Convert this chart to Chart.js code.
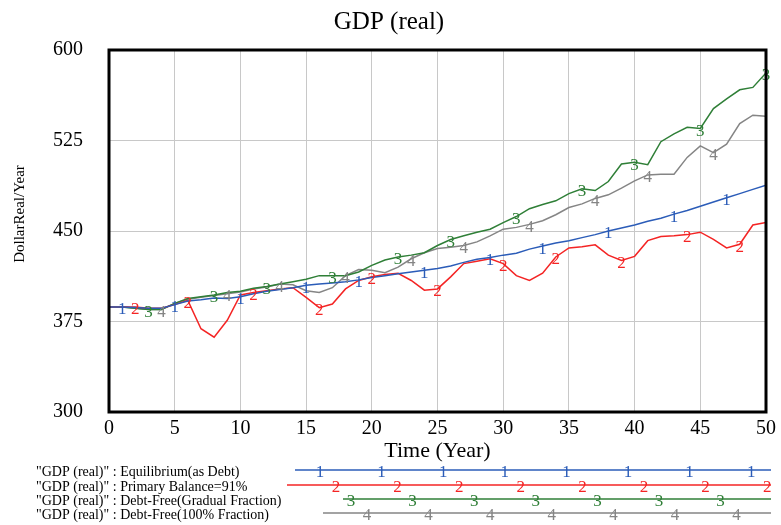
<!DOCTYPE html>
<html>
<head>
<meta charset="utf-8">
<script src="https://cdn.jsdelivr.net/npm/chart.js@4"></script>
<style>
  body { margin: 0; background: #fff; }
  canvas { display: block; }
</style>
</head>
<body>
<canvas id="myChart" width="781" height="525" style="width:781px;height:525px"></canvas>
<script>
// time axis (years) and the four runs
const years = Array.from({ length: 51 }, (_, i) => i)

const equilibrium = [387, 387, 386.5, 386, 386, 389, 392, 393, 394.5, 394, 395.5, 398, 400, 401.5, 403, 405, 406, 407, 408, 409.5,
  411.5, 413, 414.5, 416, 417.5, 419, 421, 424, 426.5, 428, 430, 431.5, 435, 437.5, 440, 442, 444.5, 447, 450, 452.5,
  455, 458, 460.5, 464, 467, 470.5, 474, 477.5, 481, 484.5, 488]
const primaryBalance = [387, 387, 387, 386, 386, 389, 392.5, 369, 362, 376, 397, 399, 400.5, 402, 403, 395, 386.5, 389.5, 402, 409,
  412, 414, 415, 409, 401, 402, 412, 423, 425, 427, 423, 413, 409, 415, 428.5, 436, 437, 438.5, 430, 425.5,
  429, 442, 445.5, 446, 447, 449, 443, 436, 439, 455, 457]
const gradual = [387, 387, 386, 385, 385, 390, 394, 395.5, 397, 399, 400, 402.5, 404, 406, 408, 410, 413, 413, 413, 416,
  421.5, 426, 428.5, 430, 432, 438, 443, 446, 449, 451.5, 457, 462, 468.5, 472, 475, 481, 485, 483.5, 491, 505.5,
  507, 505, 524, 530.5, 536, 535, 551.5, 559.5, 567, 569, 581]
const fullFraction = [387, 387, 386, 385, 385, 390, 393.5, 395, 396.5, 398, 399.5, 402, 403.5, 406, 405.5, 400.5, 399, 403, 413, 418,
  417.5, 415.5, 420, 427, 432, 435.5, 436.5, 438, 441, 446, 451.5, 453, 455.5, 458.5, 463.5, 469.5, 472.5, 477, 480, 485.5,
  491.5, 496.5, 497, 497, 511, 520.5, 515, 522, 539, 546, 545]

// years where the run number is written on each line
const marks1 = [1, 5, 10, 15, 19, 24, 29, 33, 38, 43, 47]
const marks2 = [2, 6, 11, 16, 20, 25, 30, 34, 39, 44, 48]
const marks3 = [3, 8, 12, 17, 22, 26, 31, 36, 40, 45, 50]
const marks4 = [4, 9, 13, 18, 23, 27, 32, 37, 41, 46]

const xTicks = [0, 5, 10, 15, 20, 25, 30, 35, 40, 45, 50]
const yTicks = [300, 375, 450, 525, 600]

const SERIF = "'Liberation Serif', 'DejaVu Serif', serif"

const runs = [
  { label: '"GDP (real)" : Equilibrium(as Debt)', values: equilibrium, marks: marks1, color: '#2b5cb8', tag: '1' },
  { label: '"GDP (real)" : Primary Balance=91%', values: primaryBalance, marks: marks2, color: '#f42424', tag: '2' },
  { label: '"GDP (real)" : Debt-Free(Gradual Fraction)', values: gradual, marks: marks3, color: '#2f7f37', tag: '3' },
  { label: '"GDP (real)" : Debt-Free(100% Fraction)', values: fullFraction, marks: marks4, color: '#858585', tag: '4' }
]

// legend line geometry (start x, first digit x)
const legendRows = [
  { y: 470, start: 295, first: 320 },
  { y: 485, start: 287, first: 336 },
  { y: 499, start: 343, first: 351 },
  { y: 513, start: 323, first: 367 }
]

const decor = {
  id: 'decor',
  afterDatasetsDraw(chart) {
    const { ctx, scales: { x, y } } = chart
    ctx.save()
    ctx.font = '17px ' + SERIF
    ctx.textAlign = 'center'
    ctx.textBaseline = 'middle'
    chart.data.datasets.forEach((ds, k) => {
      const run = runs[k]
      ctx.fillStyle = run.color
      run.marks.forEach(t => {
        ctx.fillText(run.tag, x.getPixelForValue(t), y.getPixelForValue(run.values[t]) + 3)
      })
    })
    ctx.restore()
  },
  afterDraw(chart) {
    const { ctx, chartArea: a } = chart
    ctx.save()
    // frame
    ctx.strokeStyle = '#000'
    ctx.lineWidth = 3
    ctx.strokeRect(a.left, a.top, a.right - a.left, a.bottom - a.top)

    ctx.fillStyle = '#000'
    ctx.textAlign = 'center'
    ctx.textBaseline = 'middle'
    ctx.font = '25px ' + SERIF
    ctx.fillText('GDP (real)', 389, 22)
    ctx.font = '22px ' + SERIF
    ctx.fillText('Time (Year)', (a.left + a.right) / 2, 451)

    ctx.save()
    ctx.translate(20, 214)
    ctx.rotate(-Math.PI / 2)
    ctx.font = '15px ' + SERIF
    ctx.fillText('DollarReal/Year', 0, 0)
    ctx.restore()

    // legend
    runs.forEach((run, k) => {
      const row = legendRows[k]
      ctx.fillStyle = '#000'
      ctx.textAlign = 'left'
      ctx.font = '14px ' + SERIF
      ctx.fillText(run.label, 36, row.y + 2)
      ctx.strokeStyle = run.color
      ctx.lineWidth = 1.5
      ctx.beginPath()
      ctx.moveTo(row.start, row.y)
      ctx.lineTo(771, row.y)
      ctx.stroke()
      ctx.fillStyle = run.color
      ctx.textAlign = 'center'
      ctx.font = '17px ' + SERIF
      for (let px = row.first; px <= 771; px += 61.6) {
        ctx.fillText(run.tag, px, row.y + 3)
      }
    })
    ctx.restore()
  }
}

const ctx = document.getElementById('myChart')

new Chart(ctx, {
  type: 'line',
  data: {
    datasets: runs.map(run => ({
      label: run.label,
      data: years.map((t, i) => ({ x: t, y: run.values[i] })),
      borderColor: run.color,
      borderWidth: 1.5,
      pointRadius: 0,
      tension: 0,
      fill: false
    }))
  },
  options: {
    responsive: false,
    animation: false,
    devicePixelRatio: 1,
    layout: { padding: { top: 50, right: 13, bottom: 0, left: 0 } },
    plugins: {
      legend: { display: false },
      title: { display: false },
      tooltip: { enabled: false }
    },
    scales: {
      x: {
        type: 'linear',
        min: 0,
        max: 50,
        afterFit: s => { s.height = 113 },
        afterBuildTicks: s => { s.ticks = xTicks.map(v => ({ value: v })) },
        grid: { color: '#c8c8c8', lineWidth: 1, drawTicks: false },
        border: { display: false },
        ticks: { color: '#000', padding: 5, maxRotation: 0, font: { family: SERIF, size: 20 } }
      },
      y: {
        min: 300,
        max: 600,
        afterFit: s => { s.width = 109 },
        afterBuildTicks: s => { s.ticks = yTicks.map(v => ({ value: v })) },
        grid: { color: '#c8c8c8', lineWidth: 1, drawTicks: false },
        border: { display: false },
        ticks: { color: '#000', padding: 26, font: { family: SERIF, size: 20 } }
      }
    }
  },
  plugins: [decor]
})
</script>
</body>
</html>
